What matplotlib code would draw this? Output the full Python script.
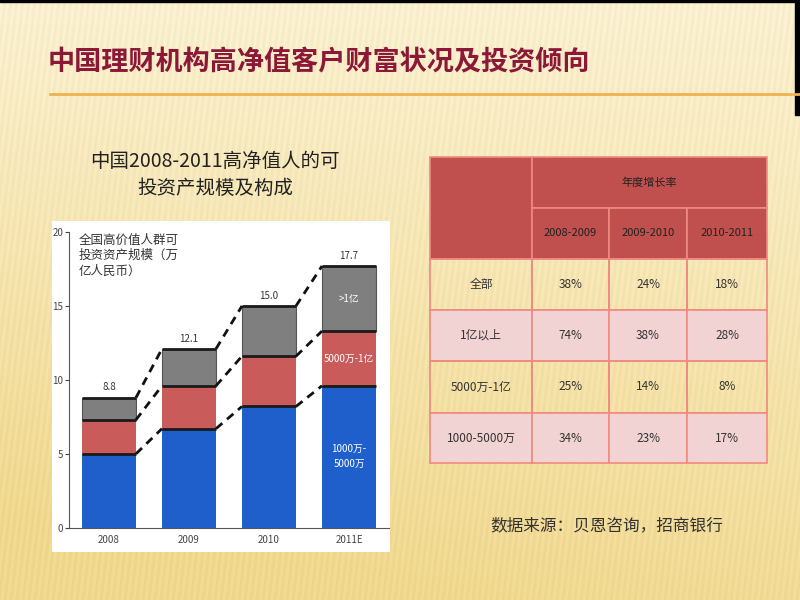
import numpy as np
import matplotlib
matplotlib.use("Agg")
import matplotlib.pyplot as plt
from matplotlib.patches import Rectangle

plt.rcParams['font.family'] = ['Noto Sans CJK SC', 'DejaVu Sans']

# ---------------- data ----------------
years = ['2008', '2009', '2010', '2011E']
seg_1000_5000 = [5.0, 6.7, 8.2, 9.6]     # 1000万-5000万 (blue)
seg_5000_1yi = [2.3, 2.9, 3.4, 3.7]      # 5000万-1亿 (red)
seg_over_1yi = [1.5, 2.5, 3.4, 4.4]      # >1亿 (grey)
totals = [8.8, 12.1, 15.0, 17.7]
y_ticks = [0, 5, 10, 15, 20]
seg_labels = ['1000万-\n5000万', '5000万-1亿', '>1亿']

table_header = '年度增长率'
table_periods = ['2008-2009', '2009-2010', '2010-2011']
table_rows = ['全部', '1亿以上', '5000万-1亿', '1000-5000万']
growth_all = ['38%', '24%', '18%']
growth_over_1yi = ['74%', '38%', '28%']
growth_5000_1yi = ['25%', '14%', '8%']
growth_1000_5000 = ['34%', '23%', '17%']

title = '中国理财机构高净值客户财富状况及投资倾向'
subtitle = '中国2008-2011高净值人的可\n投资产规模及构成'
ylabel_text = '全国高价值人群可\n投资资产规模（万\n亿人民币）'
source = '数据来源：贝恩咨询，招商银行'

# ---------------- figure & background ----------------
fig = plt.figure(figsize=(8, 6), dpi=100)
bg = fig.add_axes([0, 0, 1, 1])
bg.set_xlim(0, 800)
bg.set_ylim(600, 0)
bg.axis('off')

H, W = 600, 800
yy, xx = np.mgrid[0:H, 0:W]
t = np.clip(0.12 + 0.78 * (yy / H) + 0.25 * ((W - xx) / W) * (yy / H), 0, 1)
light = np.array([252, 244, 218]) / 255.0
dark = np.array([240, 216, 142]) / 255.0
img = light[None, None, :] * (1 - t[..., None]) + dark[None, None, :] * t[..., None]
stripes = 0.014 * np.sin(2 * np.pi * (xx + 0.12 * yy) / 6.0)
img = np.clip(img + stripes[..., None], 0, 1)
bg.imshow(img, extent=[0, 800, 600, 0], aspect='auto', zorder=0)

# frame bits
bg.add_patch(Rectangle((0, 0), 800, 2, color='black', zorder=1))
bg.add_patch(Rectangle((795, 0), 5, 115, color='black', zorder=1))

# title
bg.text(48, 62, title, fontsize=19.5, fontweight='bold', color='#8c1838',
        va='center', ha='left', zorder=3)
bg.plot([50, 800], [94, 94], color='#eeb252', lw=2, zorder=2)

# subtitle
bg.text(215, 175, subtitle, fontsize=14, color='#222222', ha='center',
        va='center', linespacing=1.35, zorder=3)

# source
bg.text(490, 526, source, fontsize=12, color='#333333', ha='left',
        va='center', zorder=3)

# white box behind chart
bg.add_patch(Rectangle((52, 221), 338, 331, facecolor='white',
                       edgecolor='none', zorder=1))

# ---------------- table ----------------
col_x = [430, 532, 609, 687, 767]
row_y = [157, 208, 259, 310, 361, 413, 463]
hdr_fill = '#c0504d'
pink_fill = '#f2d3d3'
line_col = '#f08a80'

bg.add_patch(Rectangle((col_x[0], row_y[0]), col_x[1] - col_x[0],
                       row_y[2] - row_y[0], facecolor=hdr_fill,
                       edgecolor=line_col, lw=1.2, zorder=2))
bg.add_patch(Rectangle((col_x[1], row_y[0]), col_x[4] - col_x[1],
                       row_y[1] - row_y[0], facecolor=hdr_fill,
                       edgecolor=line_col, lw=1.2, zorder=2))
bg.text((col_x[1] + col_x[4]) / 2, (row_y[0] + row_y[1]) / 2, table_header,
        fontsize=8, color='#222222', ha='center', va='center', zorder=3)
for j, p in enumerate(table_periods):
    bg.add_patch(Rectangle((col_x[j + 1], row_y[1]), col_x[j + 2] - col_x[j + 1],
                           row_y[2] - row_y[1], facecolor=hdr_fill,
                           edgecolor=line_col, lw=1.2, zorder=2))
    bg.text((col_x[j + 1] + col_x[j + 2]) / 2, (row_y[1] + row_y[2]) / 2, p,
            fontsize=8, color='#222222', ha='center', va='center', zorder=3)

body = [growth_all, growth_over_1yi, growth_5000_1yi, growth_1000_5000]
for i, (name, vals) in enumerate(zip(table_rows, body)):
    y0, y1 = row_y[i + 2], row_y[i + 3]
    fill = pink_fill if i % 2 == 1 else 'none'
    cells = [name] + vals
    for j, txt in enumerate(cells):
        bg.add_patch(Rectangle((col_x[j], y0), col_x[j + 1] - col_x[j], y1 - y0,
                               facecolor=fill, edgecolor=line_col, lw=1.2,
                               zorder=2))
        bg.text((col_x[j] + col_x[j + 1]) / 2, (y0 + y1) / 2, txt, fontsize=8.5,
                color='#333333', ha='center', va='center', zorder=3)

# ---------------- bar chart ----------------
ax = fig.add_axes([69 / 800, 1 - 527.7 / 600, 320 / 800, (527.7 - 232) / 600])
ax.patch.set_alpha(0)
x = np.arange(len(years))
w = 0.675
blue, red, grey = '#1f5fcc', '#c95c5a', '#7f7f7f'
b1 = np.array(seg_1000_5000)
b2 = np.array(seg_5000_1yi)
b3 = np.array(seg_over_1yi)
ax.bar(x, b1, w, color=blue, zorder=2)
ax.bar(x, b2, w, bottom=b1, color=red, zorder=2)
ax.bar(x, b3, w, bottom=b1 + b2, color=grey, edgecolor='#555555', lw=0.8,
       zorder=2)

levels = [b1, b1 + b2, b1 + b2 + b3]
for lv in levels:
    ax.hlines(lv, x - w / 2, x + w / 2, colors='#1a1a1a', lw=2, zorder=3)
    for i in range(len(x) - 1):
        ax.plot([x[i] + w / 2, x[i + 1] - w / 2], [lv[i], lv[i + 1]],
                color='#111111', lw=2, ls=(0, (3, 2.2)), zorder=3)

for xi, tot in zip(x, totals):
    ax.text(xi, tot + 0.35, f'{tot:.1f}', ha='center', va='bottom',
            fontsize=7, color='#333333')

last = len(x) - 1
ax.text(x[last], b1[last] / 2, seg_labels[0], ha='center', va='center',
        fontsize=7, color='white', linespacing=1.6, zorder=4)
ax.text(x[last], b1[last] + b2[last] / 2, seg_labels[1], ha='center',
        va='center', fontsize=7, color='white', zorder=4)
ax.text(x[last], b1[last] + b2[last] + b3[last] / 2, seg_labels[2],
        ha='center', va='center', fontsize=7, color='white', zorder=4)

ax.text(0.03, 0.995, ylabel_text, transform=ax.transAxes, ha='left', va='top',
        fontsize=9, color='#333333', linespacing=1.25)

ax.set_xlim(-0.5, 3.5)
ax.set_ylim(0, 20)
ax.set_yticks(y_ticks)
ax.set_xticks(x)
ax.set_xticklabels(years)
ax.tick_params(axis='y', labelsize=7, length=3, width=0.8, colors='#444444',
               pad=1)
ax.tick_params(axis='x', labelsize=7, length=0, colors='#444444', pad=5)
for s in ['top', 'right']:
    ax.spines[s].set_visible(False)
ax.spines['left'].set_color('#555555')
ax.spines['bottom'].set_color('#555555')

fig.savefig('out.png', dpi=100)
